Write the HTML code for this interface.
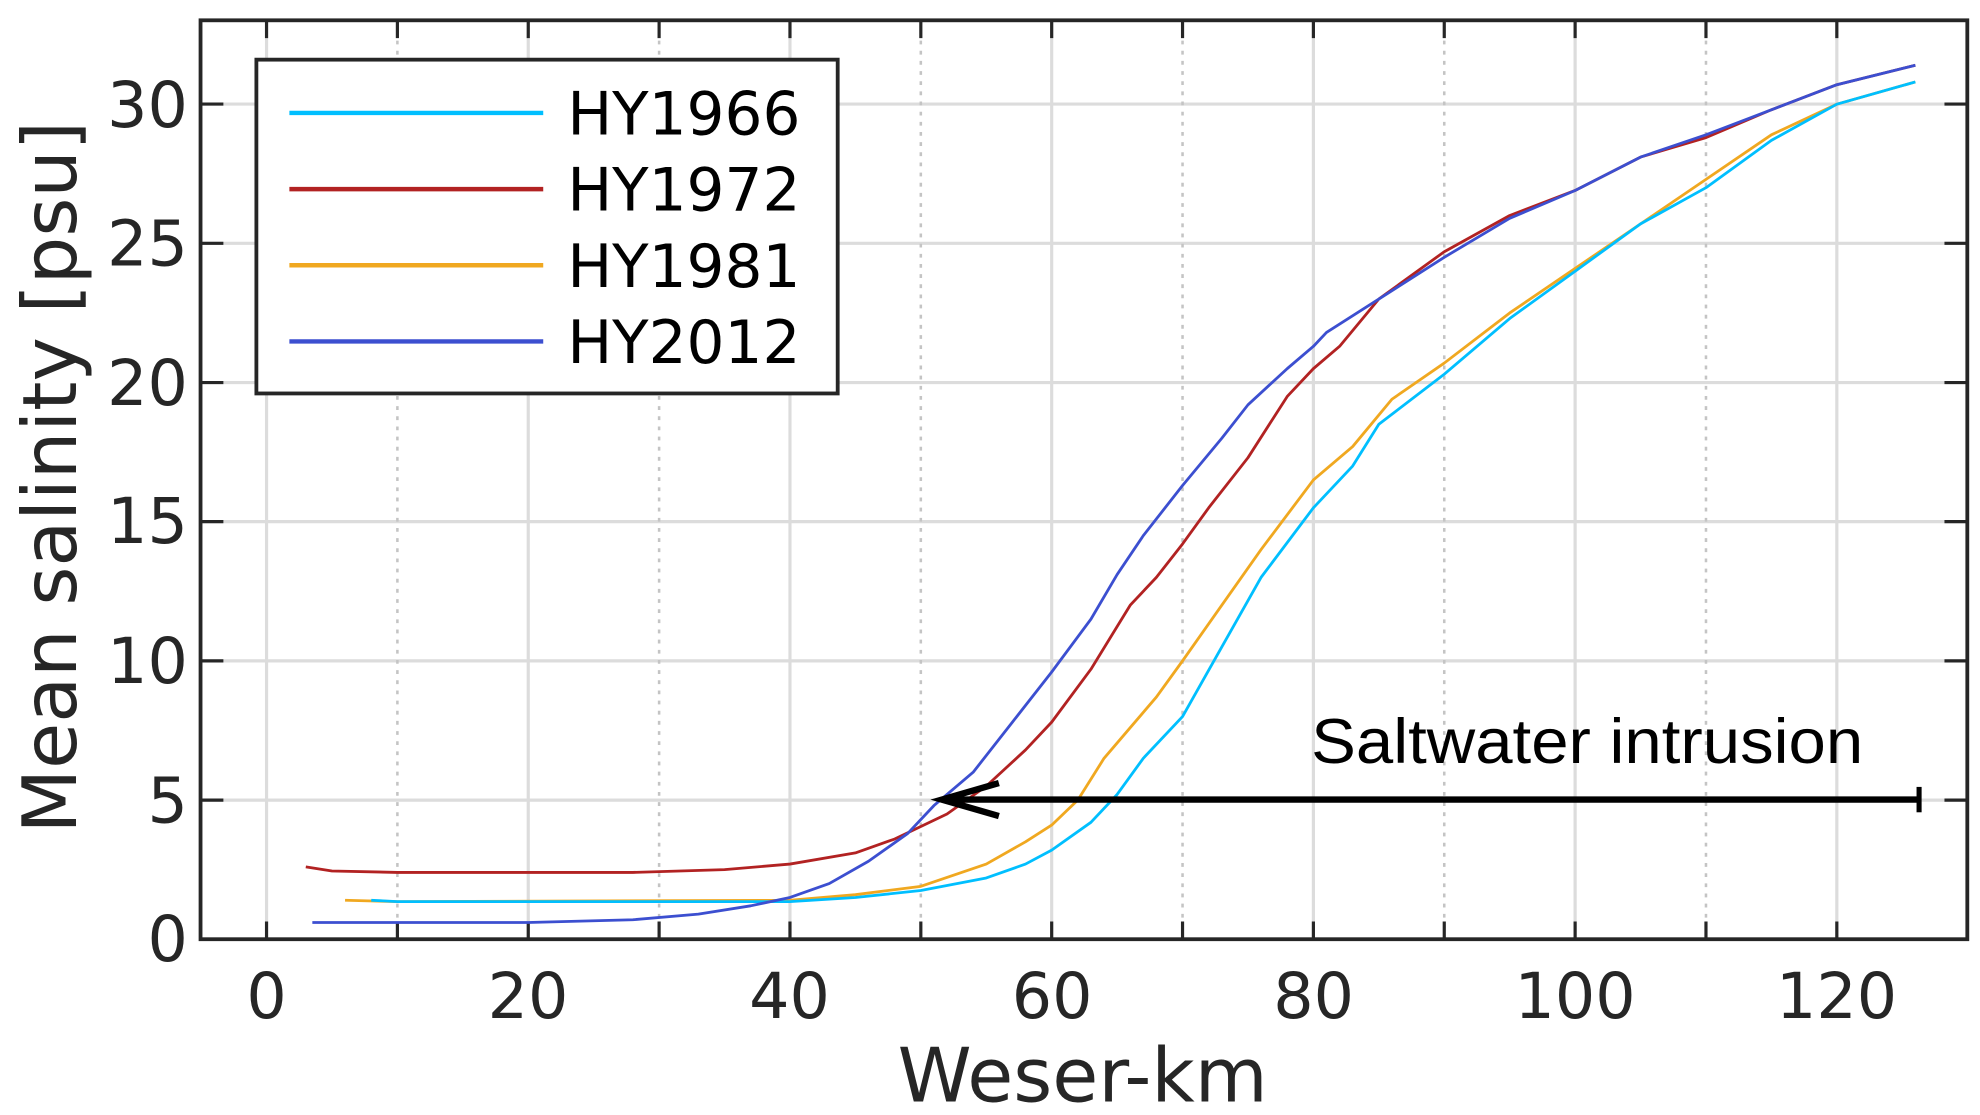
<!DOCTYPE html>
<html><head><meta charset="utf-8"><style>html,body{margin:0;padding:0;background:#fff}svg{display:block}</style></head>
<body>
<svg width="1980" height="1115" viewBox="0 0 1560 878.5" preserveAspectRatio="none" xmlns="http://www.w3.org/2000/svg" font-family="DejaVu Sans, Liberation Sans, sans-serif">
<rect width="1560" height="878.5" fill="#fff"/>
<g stroke="#dcdcdc" stroke-width="2.5">
<line x1="210" y1="16" x2="210" y2="740"/><line x1="416.2" y1="16" x2="416.2" y2="740"/><line x1="622.4" y1="16" x2="622.4" y2="740"/><line x1="828.6" y1="16" x2="828.6" y2="740"/><line x1="1034.8" y1="16" x2="1034.8" y2="740"/><line x1="1241" y1="16" x2="1241" y2="740"/><line x1="1447.2" y1="16" x2="1447.2" y2="740"/>
<line x1="158" y1="630.4" x2="1550" y2="630.4"/><line x1="158" y1="520.7" x2="1550" y2="520.7"/><line x1="158" y1="411" x2="1550" y2="411"/><line x1="158" y1="301.4" x2="1550" y2="301.4"/><line x1="158" y1="191.7" x2="1550" y2="191.7"/><line x1="158" y1="82" x2="1550" y2="82"/>
</g>
<g stroke="#c4c4c4" stroke-width="2" stroke-dasharray="3,5">
<line x1="313.1" y1="16" x2="313.1" y2="740"/><line x1="519.3" y1="16" x2="519.3" y2="740"/><line x1="725.5" y1="16" x2="725.5" y2="740"/><line x1="931.7" y1="16" x2="931.7" y2="740"/><line x1="1137.9" y1="16" x2="1137.9" y2="740"/><line x1="1344.1" y1="16" x2="1344.1" y2="740"/>
</g>
<g stroke="#262626" stroke-width="2.5">
<path d="M210 16v14M313.1 16v14M416.2 16v14M519.3 16v14M622.4 16v14M725.5 16v14M828.6 16v14M931.7 16v14M1034.8 16v14M1137.9 16v14M1241 16v14M1344.1 16v14M1447.2 16v14"/>
<path d="M210 740v-14M313.1 740v-14M416.2 740v-14M519.3 740v-14M622.4 740v-14M725.5 740v-14M828.6 740v-14M931.7 740v-14M1034.8 740v-14M1137.9 740v-14M1241 740v-14M1344.1 740v-14M1447.2 740v-14"/>
<path d="M158 630.4h18M158 520.7h18M158 411h18M158 301.4h18M158 191.7h18M158 82h18M1550 630.4h-18M1550 520.7h-18M1550 411h-18M1550 301.4h-18M1550 191.7h-18M1550 82h-18"/>
</g>
<g transform="translate(210,740) scale(10.31,-21.93)" fill="none" stroke-width="2.8" stroke-linejoin="round">
<polyline vector-effect="non-scaling-stroke" stroke="#f0a820" points="6,1.4 10,1.35 40,1.4 45,1.6 50,1.9 55,2.7 58,3.5 60,4.1 62,5 64,6.5 66,7.6 68,8.7 70,10 73,12 76,14 80,16.5 83,17.7 86,19.4 90,20.7 95,22.5 100,24.1 105,25.7 110,27.3 115,28.9 120,30 126,30.8"/>
<polyline vector-effect="non-scaling-stroke" stroke="#00bfff" points="8,1.4 10,1.35 40,1.35 45,1.5 50,1.75 55,2.2 58,2.7 60,3.2 63,4.2 65,5.2 67,6.5 70,8 73,10.5 76,13 80,15.5 83,17 85,18.5 90,20.3 95,22.3 100,24 105,25.7 110,27 115,28.7 120,30 126,30.8"/>
<polyline vector-effect="non-scaling-stroke" stroke="#b22222" points="3,2.6 5,2.45 10,2.4 28,2.4 35,2.5 40,2.7 45,3.1 48,3.6 52,4.5 55,5.5 58,6.8 60,7.8 63,9.7 66,12 68,13 70,14.2 72,15.5 75,17.3 78,19.5 80,20.5 82,21.3 85,23 90,24.7 95,26 100,26.9 105,28.1 110,28.8 115,29.8 120,30.7 126,31.4"/>
<polyline vector-effect="non-scaling-stroke" stroke="#3c4fd0" points="3.5,0.6 20,0.6 28,0.7 33,0.9 37,1.2 40,1.5 43,2 46,2.8 49,3.8 51,4.8 54,6 57,7.8 60,9.6 63,11.5 65,13.1 67,14.5 70,16.3 73,18 75,19.2 78,20.5 80,21.3 81,21.8 85,23 90,24.5 95,25.9 100,26.9 105,28.1 110,28.9 120,30.7 126,31.4"/>
</g>
<rect x="158" y="16" width="1392" height="724" fill="none" stroke="#262626" stroke-width="3"/>
<rect x="202" y="47" width="458" height="263" fill="#fff" stroke="#262626" stroke-width="3"/>
<g stroke-width="3.5"><line x1="228" y1="89" x2="428" y2="89" stroke="#00bfff"/><line x1="228" y1="149" x2="428" y2="149" stroke="#b22222"/><line x1="228" y1="209" x2="428" y2="209" stroke="#f0a820"/><line x1="228" y1="269" x2="428" y2="269" stroke="#3c4fd0"/></g>
<g font-size="47" fill="#000"><text x="447" y="106">HY1966</text><text x="447" y="166">HY1972</text><text x="447" y="226">HY1981</text><text x="447" y="286">HY2012</text></g>
<g font-size="50" fill="#262626" text-anchor="end"><text x="148" y="757">0</text><text x="148" y="648">5</text><text x="148" y="538">10</text><text x="148" y="428">15</text><text x="148" y="319">20</text><text x="148" y="209">25</text><text x="148" y="100">30</text></g>
<g font-size="50" fill="#262626" text-anchor="middle"><text x="210" y="802">0</text><text x="416" y="802">20</text><text x="622" y="802">40</text><text x="829" y="802">60</text><text x="1035" y="802">80</text><text x="1241" y="802">100</text><text x="1447" y="802">120</text></g>
<text x="853" y="868" font-size="59" fill="#262626" text-anchor="middle">Weser-km</text>
<text transform="translate(60,376) rotate(-90)" font-size="59" fill="#262626" text-anchor="middle">Mean salinity [psu]</text>
<text x="1033" y="601" font-size="50" fill="#000" font-family="Liberation Sans, sans-serif" textLength="435" lengthAdjust="spacingAndGlyphs">Saltwater intrusion</text>
<line x1="750" y1="630" x2="1512" y2="630" stroke="#000" stroke-width="5"/>
<line x1="1512" y1="620" x2="1512" y2="640" stroke="#000" stroke-width="4"/>
<path d="M787 617 L742 630 L787 643" fill="none" stroke="#000" stroke-width="5"/>
</svg>
</body></html>
